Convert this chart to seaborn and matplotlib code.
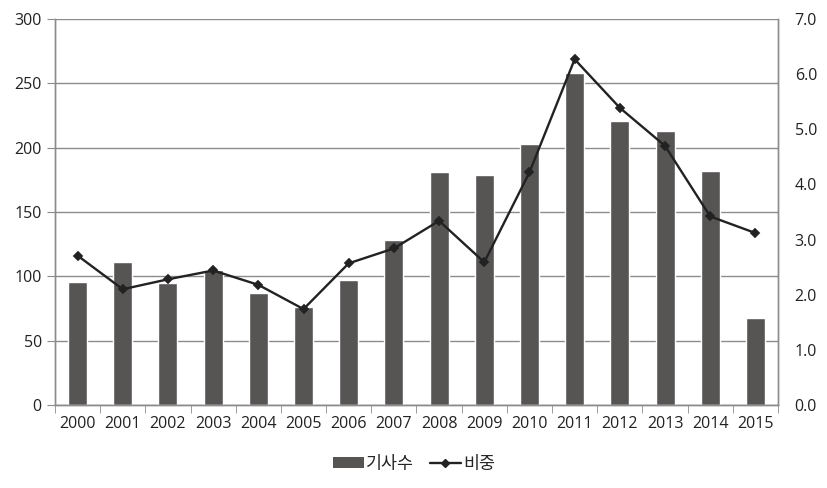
import numpy as np
import pandas as pd
import matplotlib
matplotlib.use("Agg")
import matplotlib.pyplot as plt
import seaborn as sns
from matplotlib.patches import Patch
from matplotlib.lines import Line2D

# data
years = [str(y) for y in range(2000, 2016)]
counts = [96, 111, 95, 105, 87, 76, 97, 128, 181, 179, 203, 258, 221, 213, 182, 68]
share = [2.71, 2.10, 2.28, 2.44, 2.18, 1.74, 2.57, 2.84, 3.34, 2.59, 4.22, 6.27, 5.39, 4.70, 3.42, 3.12]
bar_label = "기사수"
line_label = "비중"

df = pd.DataFrame({"year": years, "count": counts, "share": share})

sns.set_style("white")
plt.rcParams['font.family'] = ['Open Sans', 'Noto Sans CJK KR', 'DejaVu Sans']

bar_color = "#575454"
line_color = "#222222"
grid_color = "#8c8c8c"

fig = plt.figure(figsize=(8.28, 4.88), dpi=100)
ax = fig.add_axes([0.0664, 0.170, 0.8732, 0.791])

sns.barplot(data=df, x="year", y="count", color=bar_color, width=0.42,
            saturation=1, ax=ax, zorder=2)
ax.set_ylim(0, 300)
ax.set_yticks(range(0, 301, 50))
ax.yaxis.grid(True, color=grid_color, linewidth=1)
ax.set_axisbelow(True)
ax.set_xlabel("")
ax.set_ylabel("")

ax2 = ax.twinx()
sns.pointplot(data=df, x="year", y="share", color=line_color, markers="D",
              linestyles="-", ax=ax2, linewidth=1.7, markersize=3.8)
ax2.set_ylim(0, 7)
ax2.set_yticks(np.arange(0, 7.01, 1))
ax2.set_yticklabels([f"{v:.1f}" for v in np.arange(0, 7.01, 1)])
ax2.set_ylabel("")
ax.set_xlim(-0.5, len(years) - 0.5)
ax2.set_xlim(-0.5, len(years) - 0.5)

# category boundary tick marks
ax.set_xticks(np.arange(-0.5, len(years), 1), minor=True)
ax.tick_params(axis="x", which="major", length=0, labelsize=11.5, pad=8, colors="#222222")
ax.tick_params(axis="x", which="minor", length=6, color=grid_color, direction="out", bottom=True)
ax.tick_params(axis="y", length=6, color=grid_color, labelsize=11.5, left=True, labelcolor="#222222")
ax2.tick_params(axis="y", length=0, labelsize=11.5, pad=12, labelcolor="#222222")

for a in (ax, ax2):
    for s in a.spines.values():
        s.set_color(grid_color)
        s.set_linewidth(1)
ax2.spines["top"].set_visible(False)
ax.spines["top"].set_visible(False)

handles = [Patch(facecolor=bar_color, edgecolor="none"),
           Line2D([0], [0], color=line_color, lw=1.7, marker="D", markersize=3.8)]
fig.legend(handles, [bar_label, line_label], loc="center", bbox_to_anchor=(0.5, 0.05),
           ncol=2, frameon=False, handlelength=1.8, handleheight=0.6,
           handletextpad=0.1, columnspacing=0.9,
           prop={'family': ['Noto Sans CJK KR', 'DejaVu Sans'], 'size': 12.5})

fig.savefig("out.png", dpi=100)
